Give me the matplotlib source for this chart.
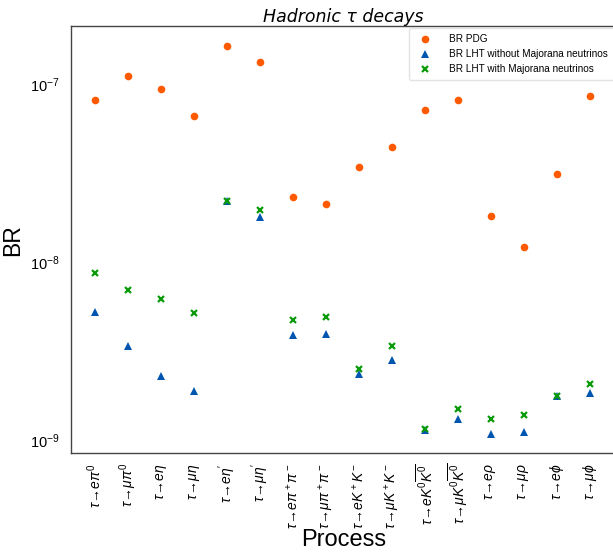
import numpy as np
import matplotlib
matplotlib.use('Agg')
import matplotlib.pyplot as plt

plt.rcParams['font.family'] = ['Liberation Sans', 'DejaVu Sans']
plt.rcParams['mathtext.fontset'] = 'custom'
plt.rcParams['mathtext.rm'] = 'Liberation Sans'
plt.rcParams['mathtext.it'] = 'Liberation Sans:italic'
plt.rcParams['mathtext.bf'] = 'Liberation Sans:bold'

# decay channels
processes = [r'$\tau\!\to\! e\pi^0$', r'$\tau\!\to\!\mu\pi^0$', r'$\tau\!\to\! e\eta$',
             r'$\tau\!\to\!\mu\eta$', r'$\tau\!\to\! e\eta^\prime$', r'$\tau\!\to\!\mu\eta^\prime$',
             r'$\tau\!\to\! e\pi^+\pi^-$', r'$\tau\!\to\!\mu\pi^+\pi^-$',
             r'$\tau\!\to\! eK^+K^-$', r'$\tau\!\to\!\mu K^+K^-$',
             r'$\tau\!\to\! eK^0\overline{K^0}$', r'$\tau\!\to\!\mu K^0\overline{K^0}$',
             r'$\tau\!\to\! e\rho$', r'$\tau\!\to\!\mu\rho$',
             r'$\tau\!\to\! e\phi$', r'$\tau\!\to\!\mu\phi$']

br_pdg = [8.16e-8, 1.12e-7, 9.37e-8, 6.64e-8, 1.635e-7, 1.335e-7, 2.33e-8, 2.13e-8,
          3.43e-8, 4.45e-8, 7.21e-8, 8.13e-8, 1.81e-8, 1.21e-8, 3.13e-8, 8.56e-8]
br_lht = [5.22e-9, 3.39e-9, 2.29e-9, 1.89e-9, 2.21e-8, 1.80e-8, 3.91e-9, 3.94e-9,
          2.35e-9, 2.81e-9, 1.14e-9, 1.31e-9, 1.085e-9, 1.105e-9, 1.76e-9, 1.85e-9]
br_lht_maj = [8.71e-9, 6.97e-9, 6.19e-9, 5.17e-9, 2.21e-8, 1.96e-8, 4.72e-9, 4.89e-9,
              2.51e-9, 3.36e-9, 1.15e-9, 1.49e-9, 1.32e-9, 1.38e-9, 1.77e-9, 2.07e-9]

W, H = 613, 557
fig = plt.figure(figsize=(W / 100, H / 100), dpi=100)
ax = fig.add_axes([70.7 / W, (H - 453.3) / H, (616 - 70.7) / W, (453.3 - 26.3) / H])

x = np.arange(len(processes))
ax.plot(x, br_pdg, 'o', color='#ff5a00', ms=5.5, mew=0, label='BR PDG')
ax.plot(x, br_lht, '^', color='#0055b0', ms=5.5, mew=0, label='BR LHT without Majorana neutrinos')
ax.plot(x, br_lht_maj, 'x', color='#0a9a0a', ms=5, mew=1.6, label='BR LHT with Majorana neutrinos')

ax.set_yscale('log')
ax.set_ylim(8.42e-10, 2.12e-7)
ax.set_xlim(-0.74, 15.79)
ax.set_yticks([1e-9, 1e-8, 1e-7])
ax.yaxis.set_minor_locator(matplotlib.ticker.NullLocator())
ax.set_xticks(x)
ax.set_xticklabels(processes, rotation=90, fontsize=10)
ax.tick_params(axis='both', length=0)
ax.tick_params(axis='x', pad=7)
ax.tick_params(axis='y', labelsize=10.5, pad=8)

for s in ax.spines.values():
    s.set_color('#444444')
    s.set_linewidth(1.0)

ax.set_title('Hadronic τ decays', family='DejaVu Sans', style='italic', fontsize=12.5, pad=3)
ax.set_xlabel('Process', fontsize=17, labelpad=0)
ax.set_ylabel('BR', fontsize=16.5, labelpad=4)

ax.legend(loc='upper right', fontsize=7.2, frameon=True, edgecolor='#dddddd',
          borderaxespad=0.2, handletextpad=1.4, borderpad=0.6, labelspacing=0.5)

fig.savefig('out.png', dpi=100)
